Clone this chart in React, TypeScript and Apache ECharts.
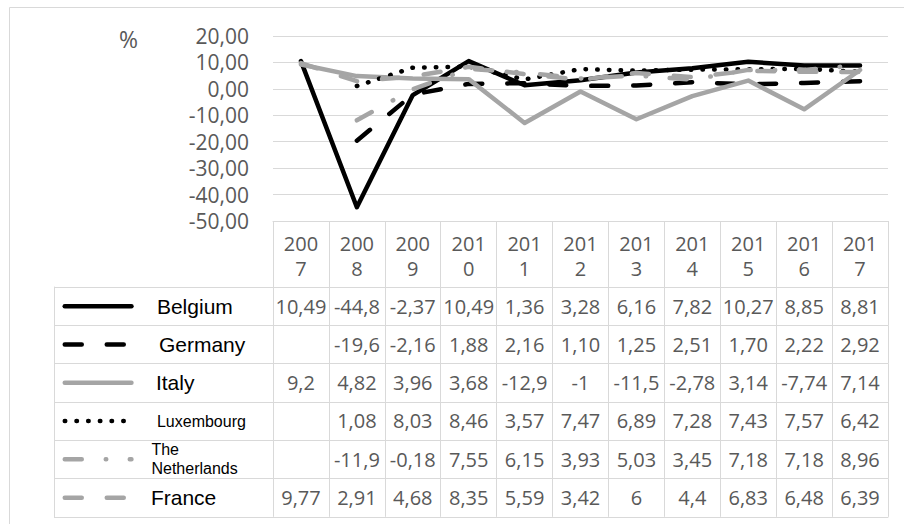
import React, { useEffect, useRef } from 'react';
import * as echarts from 'echarts';

// ---------- data ----------
const years = ['2007', '2008', '2009', '2010', '2011', '2012', '2013', '2014', '2015', '2016', '2017'];
const seriesNames = ['Belgium', 'Germany', 'Italy', 'Luxembourg', 'The Netherlands', 'France'];
const belgium = ['10,49', '-44,8', '-2,37', '10,49', '1,36', '3,28', '6,16', '7,82', '10,27', '8,85', '8,81'];
const germany = ['', '-19,6', '-2,16', '1,88', '2,16', '1,10', '1,25', '2,51', '1,70', '2,22', '2,92'];
const italy = ['9,2', '4,82', '3,96', '3,68', '-12,9', '-1', '-11,5', '-2,78', '3,14', '-7,74', '7,14'];
const luxembourg = ['', '1,08', '8,03', '8,46', '3,57', '7,47', '6,89', '7,28', '7,43', '7,57', '6,42'];
const netherlands = ['', '-11,9', '-0,18', '7,55', '6,15', '3,93', '5,03', '3,45', '7,18', '7,18', '8,96'];
const france = ['9,77', '2,91', '4,68', '8,35', '5,59', '3,42', '6', '4,4', '6,83', '6,48', '6,39'];
const yMin = -50;
const yMax = 20;
const yStep = 10;
const unitLabel = '%';

const rows = [belgium, germany, italy, luxembourg, netherlands, france];
const toNum = (s: string) => (s === '' ? null : parseFloat(s.replace(',', '.')));

// ---------- layout & style ----------
const W = 904;
const H = 524;
const PLOT_LEFT = 273;
const PLOT_RIGHT = 888;
const PLOT_TOP = 36;
const PLOT_BOTTOM = 221;
const HEADER_H = 66;
const ROW_H = 38.3;
const LEGEND_LEFT = 54;
const LINE_W = 4.5;
const ICON_W = 66.7;
const GRID_COLOR = '#d9d9d9';
const TEXT_GREY = '#595959';
const BLACK = '#000000';
const GREY = '#a5a5a5';
const NUM_FONT = 'Open Sans';
const LEGEND_FONT = 'Liberation Sans';

const lineStyles: any[] = [
  { color: BLACK, type: 'solid' },
  { color: BLACK, type: [17, 25] },
  { color: GREY, type: 'solid' },
  { color: BLACK, type: [0.5, 11.2] },
  { color: GREY, type: [17, 24, 0.5, 23.5] },
  { color: GREY, type: [17, 25] },
];
const legendTextStyles = [
  { fontSize: 21, pad: 20.5 },
  { fontSize: 21, pad: 22.5 },
  { fontSize: 21, pad: 19.5 },
  { fontSize: 16, pad: 20.5 },
  { fontSize: 16, pad: 15 },
  { fontSize: 21, pad: 14.5 },
];

const tableLine = { lineStyle: { color: GRID_COLOR, width: 1 } };

export default function App() {
  const ref = useRef<HTMLDivElement>(null);
  useEffect(() => {
    if (!ref.current) return;
    const chart = echarts.init(ref.current, undefined, { renderer: 'svg' });

    const rowAxes = rows.map((r, i) => ({
      gridIndex: 0,
      type: 'category',
      data: years,
      position: 'bottom',
      offset: HEADER_H + i * ROW_H,
      boundaryGap: true,
      axisLine: { show: true, onZero: false, ...tableLine },
      axisTick: { show: true, interval: 0, length: ROW_H, ...tableLine },
      axisLabel: {
        interval: 0,
        formatter: (_v: string, idx: number) => r[idx],
        margin: 9,
        fontSize: 20,
        lineHeight: 20,
        fontFamily: NUM_FONT,
        color: TEXT_GREY,
      },
      splitLine: { show: false },
    }));

    const option: any = {
      animation: false,
      backgroundColor: '#ffffff',
      title: {
        text: unitLabel,
        left: 119,
        top: 27,
        padding: 0,
        textStyle: { fontSize: 23, fontWeight: 'normal', color: TEXT_GREY, fontFamily: NUM_FONT },
      },
      graphic: [
        {
          type: 'rect',
          x: 9.5,
          y: 7.5,
          silent: true,
          z: -10,
          shape: { x: 0, y: 0, width: 1200, height: 1200 },
          style: { fill: 'none', stroke: GRID_COLOR, lineWidth: 1 },
        },
      ],
      grid: [
        { left: PLOT_LEFT, right: W - PLOT_RIGHT, top: PLOT_TOP, bottom: H - PLOT_BOTTOM },
        { left: LEGEND_LEFT, width: PLOT_LEFT - LEGEND_LEFT, top: PLOT_BOTTOM + HEADER_H, height: ROW_H * rows.length },
      ],
      legend: {
        orient: 'vertical',
        left: LEGEND_LEFT + 8.5,
        top: PLOT_BOTTOM + HEADER_H,
        padding: 0,
        itemGap: 0,
        itemWidth: ICON_W,
        itemHeight: ROW_H / 0.8,
        selectedMode: false,
        itemStyle: { opacity: 0, borderWidth: 0 },
        lineStyle: { width: LINE_W },
        textStyle: { fontFamily: LEGEND_FONT, color: '#000000', fontSize: 21 },
        formatter: (name: string) => (name === 'The Netherlands' ? 'The\nNetherlands' : name),
        data: seriesNames.map((n, i) => ({
          name: n,
          textStyle: {
            fontSize: legendTextStyles[i].fontSize,
            lineHeight: legendTextStyles[i].fontSize === 16 ? 19 : 24,
            padding: [0, 0, 0, legendTextStyles[i].pad],
            fontFamily: LEGEND_FONT,
            color: '#000000',
          },
        })),
      },
      xAxis: [
        {
          gridIndex: 0,
          type: 'category',
          data: years,
          position: 'bottom',
          boundaryGap: true,
          axisLine: { show: true, onZero: false, ...tableLine },
          axisTick: { show: true, interval: 0, length: HEADER_H, ...tableLine },
          axisLabel: {
            interval: 0,
            formatter: (v: string) => v.slice(0, 3) + '\n' + v.slice(3),
            margin: 9.5,
            fontSize: 20,
            lineHeight: 25,
            fontFamily: NUM_FONT,
            color: TEXT_GREY,
          },
          splitLine: { show: false },
        },
        ...rowAxes,
        {
          gridIndex: 0,
          type: 'category',
          data: years,
          position: 'bottom',
          offset: HEADER_H + rows.length * ROW_H,
          axisLine: { show: true, onZero: false, ...tableLine },
          axisTick: { show: false },
          axisLabel: { show: false },
          splitLine: { show: false },
        },
        { gridIndex: 1, type: 'value', show: false },
      ],
      yAxis: [
        {
          gridIndex: 0,
          type: 'value',
          min: yMin,
          max: yMax,
          interval: yStep,
          axisLine: { show: false },
          axisTick: { show: false },
          axisLabel: {
            formatter: (v: number) => v.toFixed(2).replace('.', ','),
            margin: 24,
            fontSize: 21,
            fontFamily: NUM_FONT,
            color: TEXT_GREY,
          },
          splitLine: { show: true, lineStyle: { color: GRID_COLOR, width: 1 } },
        },
        {
          gridIndex: 1,
          type: 'category',
          data: seriesNames,
          inverse: true,
          boundaryGap: true,
          axisLine: { show: true, onZero: false, ...tableLine },
          axisTick: { show: false },
          axisLabel: { show: false },
          splitLine: { show: true, interval: 0, ...tableLine },
        },
      ],
      series: rows.map((r, i) => ({
        type: 'line',
        name: seriesNames[i],
        xAxisIndex: 0,
        yAxisIndex: 0,
        data: r.map(toNum),
        symbol: 'none',
        connectNulls: false,
        silent: true,
        itemStyle: { color: lineStyles[i].color },
        lineStyle: {
          color: lineStyles[i].color,
          width: LINE_W,
          type: lineStyles[i].type,
          cap: 'round',
          join: 'round',
        },
        emphasis: { disabled: true },
      })),
    };

    chart.setOption(option);
    return () => chart.dispose();
  }, []);

  return (
    <div
      ref={ref}
      style={{ position: 'fixed', left: 0, top: 0, width: W, height: H, background: '#ffffff' }}
    />
  );
}
